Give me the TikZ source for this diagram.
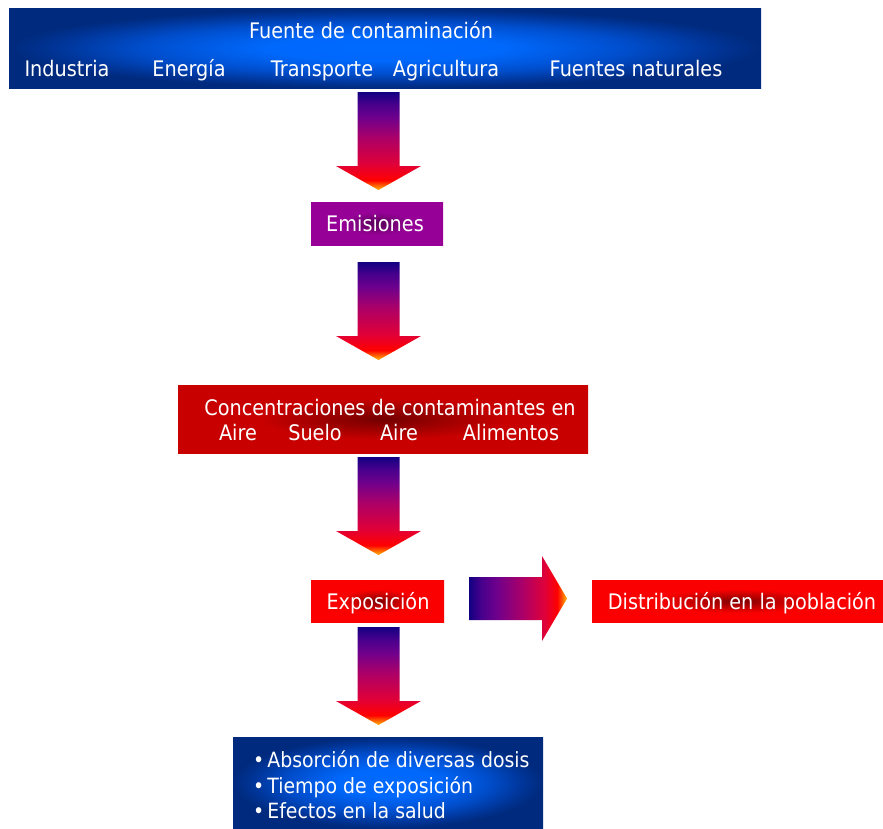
\documentclass[tikz,border=0pt]{standalone}
\usepackage{fontspec}
\setmainfont{DejaVu Sans}[FakeStretch=0.9]
\usetikzlibrary{calc}
\definecolor{navyB}{RGB}{0,42,125}
\definecolor{navyB2}{RGB}{0,52,150}
\definecolor{midB}{RGB}{0,78,205}
\definecolor{brightB}{RGB}{0,106,255}
\pgfdeclareradialshading{blueglow}{\pgfpoint{0bp}{0bp}}{color(0bp)=(brightB); color(8bp)=(brightB!92!midB); color(16bp)=(midB); color(22bp)=(navyB2); color(25bp)=(navyB); color(50bp)=(navyB)}
\definecolor{purpB}{RGB}{150,0,150}
\definecolor{purpD}{RGB}{85,0,85}
\pgfdeclareradialshading{purpglow}{\pgfpoint{0bp}{0bp}}{color(0bp)=(purpD); color(5bp)=(purpD!60!purpB); color(13bp)=(purpB); color(50bp)=(purpB)}
\definecolor{redA}{RGB}{200,0,0}
\definecolor{redAD}{RGB}{115,0,0}
\pgfdeclareradialshading{darkredglow}{\pgfpoint{0bp}{0bp}}{color(0bp)=(redAD); color(6bp)=(redAD!60!redA); color(15bp)=(redA); color(50bp)=(redA)}
\definecolor{redB}{RGB}{250,0,0}
\definecolor{redBD}{RGB}{125,0,0}
\pgfdeclareradialshading{redglow}{\pgfpoint{0bp}{0bp}}{color(0bp)=(redBD); color(5bp)=(redBD!60!redB); color(14bp)=(redB); color(50bp)=(redB)}
\definecolor{arNavy}{RGB}{18,0,130}
\definecolor{arInd}{RGB}{70,0,140}
\definecolor{arPurp}{RGB}{110,0,140}
\definecolor{arMag}{RGB}{170,0,105}
\definecolor{arRed}{RGB}{225,0,55}
\definecolor{arRed2}{RGB}{255,0,0}
\definecolor{arOr}{RGB}{255,150,0}
\pgfdeclareverticalshading{arrowdown}{100bp}{color(0bp)=(arOr); color(26bp)=(arOr); color(30bp)=(arRed2); color(38bp)=(arRed); color(52bp)=(arMag); color(62bp)=(arPurp); color(69bp)=(arInd); color(75bp)=(arNavy); color(100bp)=(arNavy)}
\pgfdeclarehorizontalshading{arrowright}{100bp}{color(0bp)=(arNavy); color(25bp)=(arNavy); color(31bp)=(arInd); color(39bp)=(arPurp); color(52bp)=(arMag); color(64bp)=(arRed); color(70bp)=(arRed2); color(74bp)=(arOr); color(100bp)=(arOr)}
\newcommand{\blockdown}[2]{%
  \shade[shading=arrowdown] (#1-21,#2) -- (#1+21,#2) -- (#1+21,#2+74) -- (#1+42.5,#2+74) -- (#1,#2+98) -- (#1-42.5,#2+74) -- (#1-21,#2+74) -- cycle;}
\tikzset{
  lbl/.style={text=white, font=\fontsize{21.4}{24}\selectfont, inner sep=0pt, anchor=base},
  blbl/.style={lbl, font=\fontsize{21}{24}\selectfont, anchor=base west},
  boxbase/.style={draw=none, inner sep=0pt, rectangle},
}
\begin{document}
\begin{tikzpicture}[x=1pt,y=-1pt]
\useasboundingbox (0,0) rectangle (883,828);
\fill[white] (0,0) rectangle (883,828);
% boxes
\node[boxbase, shading=blueglow, minimum width=752pt, minimum height=80pt] (src) at (385,48) {};
\node[boxbase, shading=purpglow, minimum width=132pt, minimum height=43pt] (emis) at (377,223.5) {};
\node[boxbase, shading=darkredglow, minimum width=410pt, minimum height=68pt] (conc) at (383,419) {};
\node[boxbase, shading=redglow, minimum width=133pt, minimum height=42pt] (expo) at (377.5,601) {};
\node[boxbase, shading=redglow, minimum width=291pt, minimum height=42pt] (dist) at (737.5,601) {};
\node[boxbase, shading=blueglow, minimum width=310pt, minimum height=91pt] (eff) at (388,782.5) {};
% texts
\node[lbl] (srct) at (371,38) {Fuente de contaminación};
\node[lbl] (ind) at (67,76) {Industria};
\node[lbl] (ene) at (189,76) {Energía};
\node[lbl] (tra) at (322,76) {Transporte};
\node[lbl] (agr) at (446,76) {Agricultura};
\node[lbl] (fnat) at (636,76) {Fuentes naturales};
\node[lbl] (emist) at (375,231) {Emisiones};
\node[lbl] (conct) at (390,415) {Concentraciones de contaminantes en};
\node[lbl] (c1) at (238,440) {Aire};
\node[lbl] (c2) at (315,440) {Suelo};
\node[lbl] (c3) at (399,440) {Aire};
\node[lbl] (c4) at (511,440) {Alimentos};
\node[lbl] (expot) at (378,609) {Exposición};
\node[lbl] (distt) at (742,609) {Distribución en la población};
\node[blbl] (e1) at (253,767) {•\hspace{3pt}Absorción de diversas dosis};
\node[blbl] (e2) at (253,793) {•\hspace{3pt}Tiempo de exposición};
\node[blbl] (e3) at (253,818) {•\hspace{3pt}Efectos en la salud};
% arrows
\blockdown{378.5}{92}
\blockdown{378.5}{262}
\blockdown{378.5}{457}
\blockdown{378.5}{627}
\shade[shading=arrowright] (469,577) -- (542,577) -- (542,556) -- (567,598.5) -- (542,641) -- (542,620) -- (469,620) -- cycle;
\end{tikzpicture}
\end{document}
